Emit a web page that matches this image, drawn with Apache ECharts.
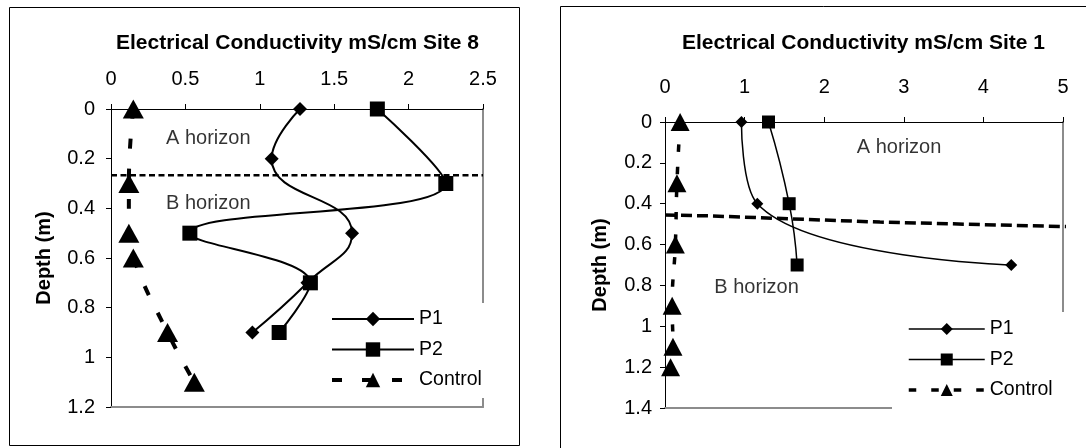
<!DOCTYPE html>
<html><head><meta charset="utf-8">
<script src="https://cdn.jsdelivr.net/npm/echarts@6/dist/echarts.min.js"></script>
<style>html,body{margin:0;padding:0;background:#fff}#c{width:1086px;height:448px}</style>
</head><body><div id="c"></div>
<script>
// ---------- Site 8 (left) ----------
const s8Title = 'Electrical Conductivity mS/cm Site 8';
const s8XTicks = [0, 0.5, 1, 1.5, 2, 2.5];
const s8YTicks = [0, 0.2, 0.4, 0.6, 0.8, 1, 1.2];
const s8P1EC = [1.27, 1.08, 1.62, 1.32, 0.95];
const s8P1Depth = [0, 0.2, 0.5, 0.7, 0.9];
const s8P2EC = [1.79, 2.25, 0.53, 1.34, 1.13];
const s8P2Depth = [0, 0.3, 0.5, 0.7, 0.9];
const s8CtrlEC = [0.15, 0.12, 0.12, 0.15, 0.38, 0.56];
const s8CtrlDepth = [0, 0.3, 0.5, 0.6, 0.9, 1.1];
const s8BoundEC = [0, 2.5];
const s8BoundDepth = [0.267, 0.267];
const s8Notes = ['A horizon', 'B horizon'];
const s8NoteEC = [0.37, 0.37];
const s8NoteDepth = [0.117, 0.38];

// ---------- Site 1 (right) ----------
const s1Title = 'Electrical Conductivity mS/cm Site 1';
const s1XTicks = [0, 1, 2, 3, 4, 5];
const s1YTicks = [0, 0.2, 0.4, 0.6, 0.8, 1, 1.2, 1.4];
const s1P1EC = [0.96, 1.16, 4.35];
const s1P1Depth = [0, 0.4, 0.7];
const s1P2EC = [1.30, 1.56, 1.66];
const s1P2Depth = [0, 0.4, 0.7];
const s1CtrlEC = [0.19, 0.15, 0.13, 0.09, 0.10, 0.07];
const s1CtrlDepth = [0, 0.3, 0.6, 0.9, 1.1, 1.2];
const s1BoundEC = [0, 0.6, 2.7, 5.13];
const s1BoundDepth = [0.455, 0.46, 0.49, 0.513];
const s1Notes = ['A horizon', 'B horizon'];
const s1NoteEC = [2.41, 0.62];
const s1NoteDepth = [0.127, 0.81];

const legendNames = ['P1', 'P2', 'Control'];

const FONT = "'Liberation Sans', Arial, sans-serif";
const zip = (a, b) => a.map((v, i) => [v, b[i]]);

function axesFor(g, xt, yt, xMargin, yMargin, nameGap) {
  const common = {gridIndex: g, type: 'value', splitLine: {show: false}};
  const x = [
    Object.assign({}, common, {
      position: 'top', min: xt[0], max: xt[xt.length - 1], interval: xt[1] - xt[0],
      axisLine: {show: true, onZero: false, lineStyle: {color: '#000', width: 1}},
      axisTick: {show: true, inside: false, length: 5, lineStyle: {color: '#000'}},
      axisLabel: {fontSize: 20, color: '#000', fontFamily: FONT, margin: xMargin}
    }),
    Object.assign({}, common, {
      position: 'bottom', min: xt[0], max: xt[xt.length - 1], interval: xt[1] - xt[0],
      axisLine: {show: true, onZero: false, lineStyle: {color: '#8c8c8c', width: 2}},
      axisTick: {show: false}, axisLabel: {show: false}
    })
  ];
  const y = [
    Object.assign({}, common, {
      position: 'left', inverse: true, min: yt[0], max: yt[yt.length - 1], interval: yt[1] - yt[0],
      name: 'Depth (m)', nameLocation: 'middle', nameRotate: 90, nameGap: nameGap,
      nameTextStyle: {fontSize: 20, fontWeight: 'bold', color: '#000', fontFamily: FONT},
      axisLine: {show: true, onZero: false, lineStyle: {color: '#000', width: 1}},
      axisTick: {show: true, inside: false, length: 5, lineStyle: {color: '#000'}},
      axisLabel: {fontSize: 20, color: '#000', fontFamily: FONT, margin: yMargin}
    }),
    Object.assign({}, common, {
      position: 'right', inverse: true, min: yt[0], max: yt[yt.length - 1], interval: yt[1] - yt[0],
      axisLine: {show: true, onZero: false, lineStyle: {color: '#8c8c8c', width: 2}},
      axisTick: {show: false}, axisLabel: {show: false}
    })
  ];
  return {x, y};
}

const a8 = axesFor(0, s8XTicks, s8YTicks, 20, 16, 57);
const a1 = axesFor(1, s1XTicks, s1YTicks, 25, 13, 55);

function lineSeries(name, ec, depth, xi, yi, symbol, size, lw, dash, smooth) {
  return {
    name, type: 'line', xAxisIndex: xi, yAxisIndex: yi, data: zip(ec, depth),
    smooth: smooth === undefined ? true : smooth, symbol, symbolSize: size, showSymbol: true,
    itemStyle: {color: '#000'},
    lineStyle: {color: '#000', width: lw, type: dash || 'solid'},
    clip: false, z: 3
  };
}
function noteSeries(names, ec, depth, xi, yi) {
  return {
    type: 'scatter', xAxisIndex: xi, yAxisIndex: yi, symbolSize: 0, silent: true,
    data: names.map((n, i) => ({name: n, value: [ec[i], depth[i]]})),
    label: {show: true, position: 'right', distance: 0, formatter: '{b}',
      fontSize: 20, color: '#000', fontFamily: FONT}
  };
}

const series = [
  lineSeries('Site8 boundary', s8BoundEC, s8BoundDepth, 0, 0, 'none', 0, 2.5, [6, 3.5], false),
  lineSeries('P1', s8P1EC, s8P1Depth, 0, 0, 'diamond', [14, 14], 2),
  lineSeries('P2', s8P2EC, s8P2Depth, 0, 0, 'rect', [15, 15], 2, null, 0.38),
  lineSeries('Control', s8CtrlEC, s8CtrlDepth, 0, 0, 'triangle', [21, 19], 4, [10, 20]),
  noteSeries(s8Notes, s8NoteEC, s8NoteDepth, 0, 0),
  lineSeries('Site1 boundary', s1BoundEC, s1BoundDepth, 2, 2, 'none', 0, 3.5, [11, 5], false),
  lineSeries('P1', s1P1EC, s1P1Depth, 2, 2, 'diamond', [12, 12], 1.5),
  lineSeries('P2', s1P2EC, s1P2Depth, 2, 2, 'rect', [13, 13], 1.5),
  lineSeries('Control', s1CtrlEC, s1CtrlDepth, 2, 2, 'triangle', [19, 18], 3.5, [7.5, 15]),
  noteSeries(s1Notes, s1NoteEC, s1NoteDepth, 2, 2)
];
series[0].z = 2; series[5].z = 2;

const chart = echarts.init(document.getElementById('c'), null, {renderer: 'canvas'});
chart.setOption({
  animation: false,
  backgroundColor: '#fff',
  grid: [
    {left: 111, top: 109, width: 372, height: 298},
    {left: 665, top: 122, width: 398, height: 286}
  ],
  xAxis: [a8.x[0], a8.x[1], a1.x[0], a1.x[1]],
  yAxis: [a8.y[0], a8.y[1], a1.y[0], a1.y[1]],
  legend: [
    {
      orient: 'vertical', left: 320, top: 303, padding: [6, 12, 8, 10],
      itemWidth: 82, itemHeight: 18, itemGap: 10.5, backgroundColor: '#fff',
      textStyle: {fontSize: 19.5, lineHeight: 20, color: '#000', fontFamily: FONT},
      selectedMode: false,
      data: [
        {name: legendNames[0], lineStyle: {width: 2, type: 'solid'}},
        {name: legendNames[1], lineStyle: {width: 2, type: 'solid'}},
        {name: legendNames[2], lineStyle: {width: 4, type: [10, 20]}}
      ]
    },
    {
      orient: 'vertical', left: 892, top: 312, padding: [7, 25, 14, 15],
      itemWidth: 76, itemHeight: 15, itemGap: 10.5, backgroundColor: '#fff',
      textStyle: {fontSize: 19.5, lineHeight: 20, color: '#000', fontFamily: FONT},
      selectedMode: false,
      data: [
        {name: legendNames[0], lineStyle: {width: 1.5, type: 'solid'}},
        {name: legendNames[1], lineStyle: {width: 1.5, type: 'solid'}},
        {name: legendNames[2], lineStyle: {width: 3.5, type: [7.5, 15]}}
      ]
    }
  ],
  graphic: [
    {type: 'rect', shape: {x: 9.5, y: 7.5, width: 510, height: 438}, style: {fill: 'none', stroke: '#000', lineWidth: 1}, z: -1},
    {type: 'rect', shape: {x: 560.5, y: 6.5, width: 600, height: 500}, style: {fill: 'none', stroke: '#000', lineWidth: 1}, z: -1},
    {type: 'text', x: 297.5, y: 43, style: {text: s8Title, fontSize: 21, fontWeight: 'bold', fontFamily: FONT, fill: '#000', textAlign: 'center', textVerticalAlign: 'middle'}},
    {type: 'text', x: 863.5, y: 43, style: {text: s1Title, fontSize: 21, fontWeight: 'bold', fontFamily: FONT, fill: '#000', textAlign: 'center', textVerticalAlign: 'middle'}}
  ],
  series
});
</script></body></html>
